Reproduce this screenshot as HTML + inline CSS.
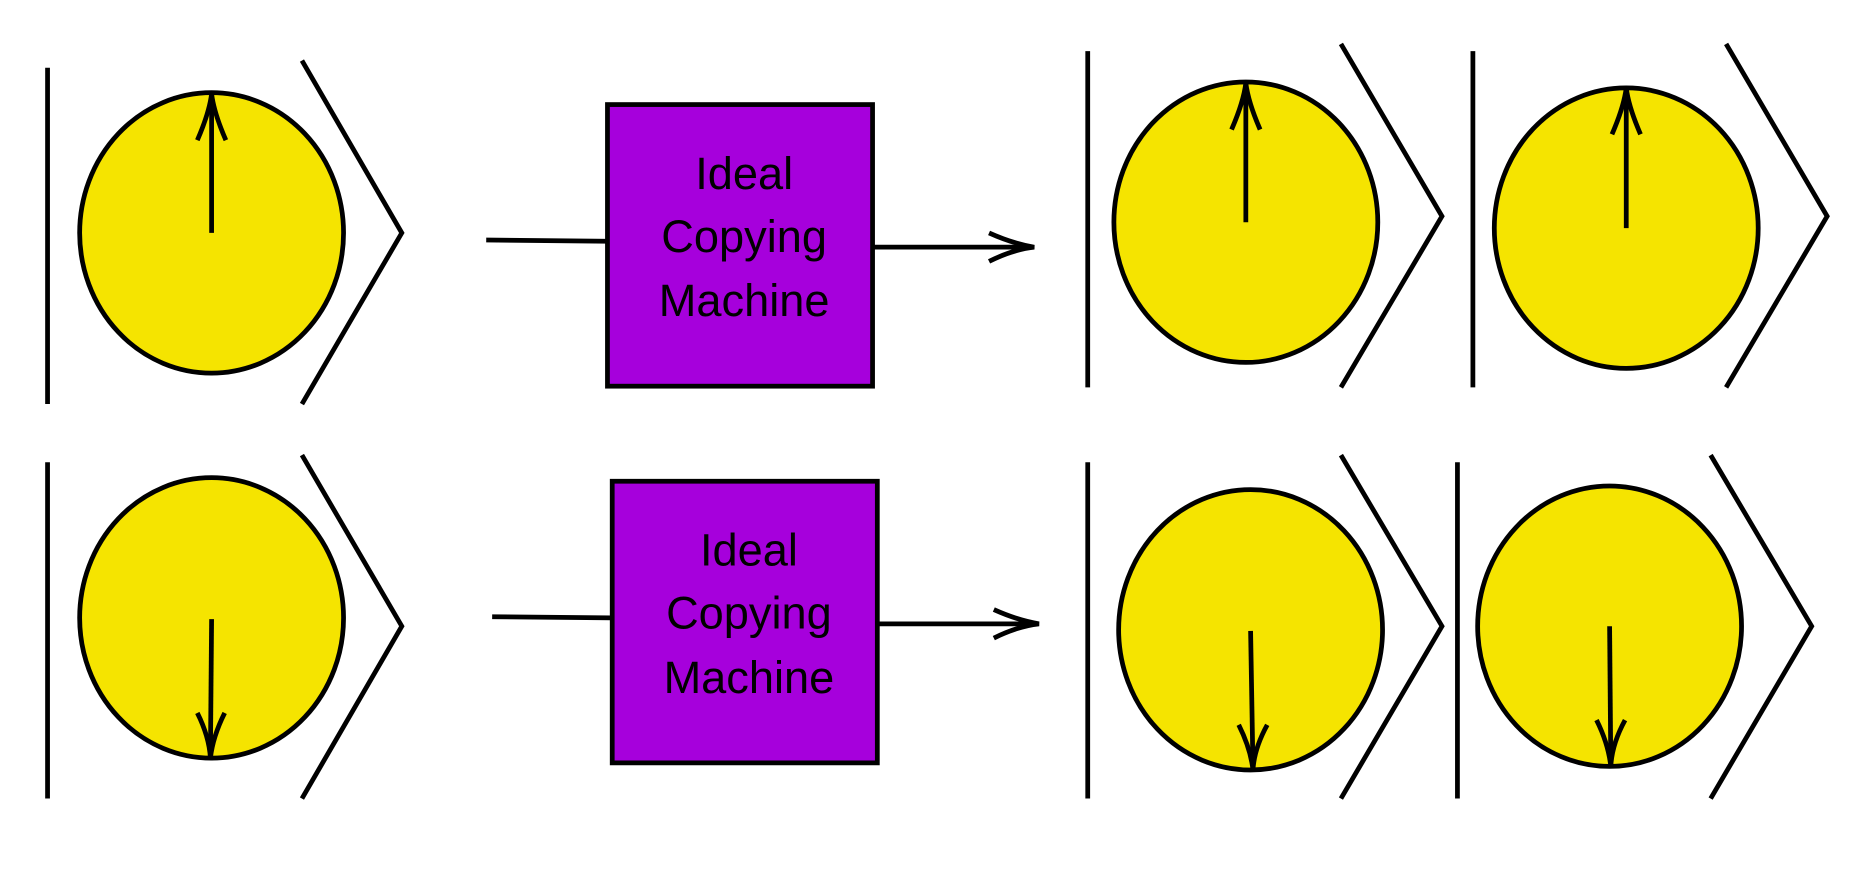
<!DOCTYPE html>
<html><head><meta charset="utf-8"><style>html,body{margin:0;padding:0;background:#fff;}svg{display:block}</style></head>
<body>
<svg width="1864" height="871" viewBox="0 0 1568 733" preserveAspectRatio="none" xmlns="http://www.w3.org/2000/svg">
<g stroke="#000" stroke-width="4" fill="none">
<line x1="40" y1="57" x2="40" y2="340"/>
<ellipse cx="178" cy="196" rx="111" ry="118" fill="#f5e400"/>
<line x1="178" y1="196" x2="178" y2="80"/>
<path d="M166,118 Q176,95 178,79 Q180,95 190,118"/>
<polyline points="254,51 338,196 254,340"/>
<line x1="409" y1="202" x2="511" y2="203"/>
<rect x="511" y="88" width="223" height="237" fill="#a600dc"/>
<line x1="734" y1="208" x2="868" y2="208"/>
<path d="M832,196 Q852,205 870,208 Q852,210 832,220"/>
<line x1="915" y1="43" x2="915" y2="326"/>
<ellipse cx="1048" cy="187" rx="111" ry="118" fill="#f5e400"/>
<line x1="1048" y1="187" x2="1048" y2="71"/>
<path d="M1036,109 Q1046,86 1048,70 Q1050,86 1060,109"/>
<polyline points="1128,37 1213,182 1128,326"/>
<line x1="1239" y1="43" x2="1239" y2="326"/>
<ellipse cx="1368" cy="192" rx="111" ry="118" fill="#f5e400"/>
<line x1="1368" y1="192" x2="1368" y2="75"/>
<path d="M1356,113 Q1366,90 1368,74 Q1370,90 1380,113"/>
<polyline points="1452,37 1537,182 1452,326"/>
<line x1="40" y1="389" x2="40" y2="672"/>
<ellipse cx="178" cy="520" rx="111" ry="118" fill="#f5e400"/>
<line x1="178" y1="521" x2="177" y2="636"/>
<path d="M166,600 Q176,620 177,638 Q179,620 189,600"/>
<polyline points="254,383 338,527 254,672"/>
<line x1="414" y1="519" x2="515" y2="520"/>
<rect x="515" y="405" width="223" height="237" fill="#a600dc"/>
<line x1="738" y1="525" x2="872" y2="525"/>
<path d="M836,513 Q856,522 874,525 Q856,527 836,537"/>
<line x1="915" y1="389" x2="915" y2="672"/>
<ellipse cx="1052" cy="530" rx="111" ry="118" fill="#f5e400"/>
<line x1="1052" y1="531" x2="1054" y2="646"/>
<path d="M1042,610 Q1052,630 1054,648 Q1055,630 1066,610"/>
<polyline points="1128,383 1213,527 1128,672"/>
<line x1="1226" y1="389" x2="1226" y2="672"/>
<ellipse cx="1354" cy="527" rx="111" ry="118" fill="#f5e400"/>
<line x1="1354" y1="527" x2="1355" y2="643"/>
<path d="M1343,606 Q1353,626 1355,645 Q1356,626 1367,606"/>
<polyline points="1439,383 1524,527 1439,672"/>
</g>
<g font-family="Liberation Sans, Arial, sans-serif" font-size="38" fill="#000" text-anchor="middle">
<text x="626" y="159">Ideal</text>
<text x="626" y="212">Copying</text>
<text x="626" y="266">Machine</text>
<text x="630" y="476">Ideal</text>
<text x="630" y="529">Copying</text>
<text x="630" y="583">Machine</text>
</g>
</svg>
</body></html>
